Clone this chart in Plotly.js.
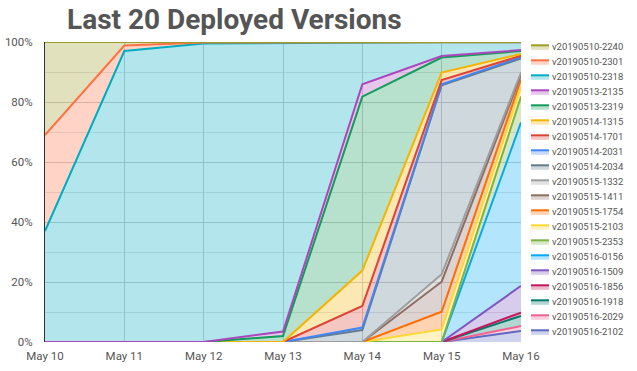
<!DOCTYPE html>
<html>
<head>
<meta charset="utf-8">
<script src="https://cdn.plot.ly/plotly-3.0.1.min.js"></script>
<style>html,body{margin:0;padding:0;background:#fff;}#chart{width:637px;height:371px;}</style>
</head>
<body>
<div id="chart"></div>
<script>
// Dates (x categories)
const dates = ["May 10", "May 11", "May 12", "May 13", "May 14", "May 15", "May 16"];

// Share of traffic per deployed version (%), one array per version
const v20190510_2240 = [31, 1.2, 0.2, 0.1, 0.1, 0.05, 0.05];
const v20190510_2301 = [32, 1.8, 0.3, 0.2, 0.1, 0.05, 0.05];
const v20190510_2318 = [37, 97, 99.5, 96.2, 13.9, 4.6, 2.6];
const v20190513_2135 = [0, 0, 0, 1.5, 4.1, 0.5, 0.3];
const v20190513_2319 = [0, 0, 0, 2.0, 58, 5.0, 1.0];
const v20190514_1315 = [0, 0, 0, 0, 11.8, 2.5, 0.6];
const v20190514_1701 = [0, 0, 0, 0, 7.2, 1.4, 0.5];
const v20190514_2031 = [0, 0, 0, 0, 0.8, 0.3, 0.4];
const v20190514_2034 = [0, 0, 0, 0, 4.0, 63.0, 4.7];
const v20190515_1332 = [0, 0, 0, 0, 0, 2.5, 0.8];
const v20190515_1411 = [0, 0, 0, 0, 0, 10.0, 1.5];
const v20190515_1754 = [0, 0, 0, 0, 0, 5.9, 2.5];
const v20190515_2103 = [0, 0, 0, 0, 0, 4.2, 3.2];
const v20190515_2353 = [0, 0, 0, 0, 0, 0, 8.6];
const v20190516_0156 = [0, 0, 0, 0, 0, 0, 54.5];
const v20190516_1509 = [0, 0, 0, 0, 0, 0, 8.9];
const v20190516_1856 = [0, 0, 0, 0, 0, 0, 1.1];
const v20190516_1918 = [0, 0, 0, 0, 0, 0, 3.4];
const v20190516_2029 = [0, 0, 0, 0, 0, 0, 1.6];
const v20190516_2102 = [0, 0, 0, 0, 0, 0, 3.7];

// Legend order (top of stack first)
const versionNames = [
  "v20190510-2240", "v20190510-2301", "v20190510-2318", "v20190513-2135", "v20190513-2319",
  "v20190514-1315", "v20190514-1701", "v20190514-2031", "v20190514-2034", "v20190515-1332",
  "v20190515-1411", "v20190515-1754", "v20190515-2103", "v20190515-2353", "v20190516-0156",
  "v20190516-1509", "v20190516-1856", "v20190516-1918", "v20190516-2029", "v20190516-2102"
];
const versionValues = [
  v20190510_2240, v20190510_2301, v20190510_2318, v20190513_2135, v20190513_2319,
  v20190514_1315, v20190514_1701, v20190514_2031, v20190514_2034, v20190515_1332,
  v20190515_1411, v20190515_1754, v20190515_2103, v20190515_2353, v20190516_0156,
  v20190516_1509, v20190516_1856, v20190516_1918, v20190516_2029, v20190516_2102
];
const versionColors = [
  "#9E9D24", "#FF7043", "#00ACC1", "#AB47BC", "#0F9D58",
  "#F4B400", "#DB4437", "#4285F4", "#607D8B", "#9E9E9E",
  "#8D6E63", "#FF6D00", "#FDD835", "#7CB342", "#03A9F4",
  "#7E57C2", "#C2185B", "#00796B", "#F06292", "#5C6BC0"
];

function rgba(hex, a) {
  const n = parseInt(hex.slice(1), 16);
  return "rgba(" + ((n >> 16) & 255) + "," + ((n >> 8) & 255) + "," + (n & 255) + "," + a + ")";
}

// Build traces bottom of stack first
const traces = [];
for (let i = versionNames.length - 1; i >= 0; i--) {
  traces.push({
    type: "scatter",
    mode: "lines",
    x: dates,
    y: versionValues[i],
    name: versionNames[i],
    stackgroup: "one",
    groupnorm: "percent",
    line: {color: versionColors[i], width: 2},
    fillcolor: rgba(versionColors[i], 0.3),
    showlegend: false
  });
}

// Plot geometry (pixels) for the hand-built legend
const W = 637, H = 371;
const mL = 45, mR = 116, mT = 42, mB = 29;
const pw = W - mL - mR, ph = H - mT - mB;
const px = v => (v - mL) / pw;
const py = v => (H - mB - v) / ph;

const shapes = [];
const annotations = [];
versionNames.forEach((name, i) => {
  const y0 = 45.3 + 15 * i;
  shapes.push({type: "rect", xref: "paper", yref: "paper",
    x0: px(531), x1: px(549), y0: py(y0 + 4.5), y1: py(y0),
    fillcolor: rgba(versionColors[i], 0.3), line: {width: 0}});
  shapes.push({type: "line", xref: "paper", yref: "paper",
    x0: px(531), x1: px(549), y0: py(y0), y1: py(y0),
    line: {color: versionColors[i], width: 2}});
  annotations.push({xref: "paper", yref: "paper", x: px(550), y: py(y0 + 1.5),
    xanchor: "left", yanchor: "middle", showarrow: false, text: name,
    font: {family: "Roboto", size: 9.5, color: "#555"}});
});

const layout = {
  width: W, height: H,
  margin: {l: mL, r: mR, t: mT, b: mB, pad: 0},
  paper_bgcolor: "#fff", plot_bgcolor: "#fff",
  showlegend: false,
  title: {text: "<b>Last 20 Deployed Versions</b>", x: 67 / W, xanchor: "left", xref: "container",
    y: 1 - 19 / H, yanchor: "middle", yref: "container",
    font: {family: "Roboto", size: 28, color: "#555"}},
  font: {family: "Roboto", color: "#555"},
  xaxis: {type: "category", range: [0, 6], showgrid: true, gridcolor: "#cfcfcf", gridwidth: 1,
    showline: false, zeroline: false, ticks: "", ticklabelstandoff: 5,
    tickfont: {size: 11.5, color: "#555"}, fixedrange: true},
  yaxis: {range: [0, 100], dtick: 20, ticksuffix: "%", showgrid: true, gridcolor: "#cccccc",
    minor: {dtick: 10, showgrid: true, gridcolor: "#e4e4e4"},
    showline: true, linecolor: "#333", linewidth: 1, zeroline: false, ticks: "",
    ticklabelstandoff: 9,
    tickfont: {size: 11.5, color: "#555"}, fixedrange: true},
  shapes: shapes,
  annotations: annotations
};

Plotly.newPlot("chart", traces, layout, {displayModeBar: false, staticPlot: true});
</script>
</body>
</html>
